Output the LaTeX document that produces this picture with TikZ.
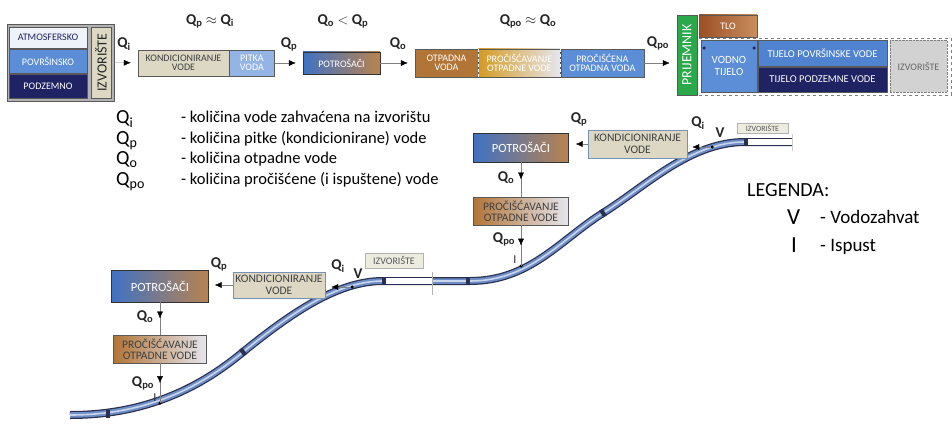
\documentclass[tikz,border=0pt]{standalone}
\usepackage{fontspec}
\setmainfont{Carlito}
\usepackage{amsmath}
\usetikzlibrary{calc}
\usetikzlibrary{scopes}
\usetikzlibrary{positioning}
\usetikzlibrary{arrows.meta}
\usetikzlibrary{decorations.markings}

\definecolor{atmo}{HTML}{EEF3FA}
\definecolor{surf}{HTML}{5B8ED6}
\definecolor{surfdark}{HTML}{4F83CF}
\definecolor{navy}{HTML}{1F2263}
\definecolor{sand}{HTML}{DDD8C3}
\definecolor{pitka}{HTML}{93B4E4}
\definecolor{potrblue}{HTML}{3F72C2}
\definecolor{potrbrown}{HTML}{B8834F}
\definecolor{otpbrown}{HTML}{B27538}
\definecolor{procorange}{HTML}{D49B22}
\definecolor{proclight}{HTML}{E6E6EE}
\definecolor{prijgreen}{HTML}{2AA84A}
\definecolor{tlodark}{HTML}{9C5024}
\definecolor{tlolight}{HTML}{C98D5E}
\definecolor{izvgray}{HTML}{D2D2D2}
\definecolor{labelbg}{HTML}{ECECE0}
\definecolor{riverdark}{HTML}{2A304F}
\definecolor{riverblue}{HTML}{6E8DC6}
\definecolor{riverlight}{HTML}{C8D5EC}

\newcommand{\Qsub}[1]{Q\textsubscript{#1}}

\begin{document}
\begin{tikzpicture}[
    x=1pt, y=-1pt,
    box/.style={rectangle,draw=gray!70!black,thin,inner sep=1pt,align=center,text=white,font=\fontsize{10}{9.5}\selectfont},
    bigbox/.style={box,font=\fontsize{11.5}{11.5}\selectfont},
    tag/.style={rectangle,draw=gray!60,fill=labelbg,inner sep=1pt,text=gray!70!black},
    qlab/.style={font=\fontsize{15}{15}\selectfont\bfseries,text=black!85,inner sep=0pt},
    qbig/.style={font=\fontsize{20}{20}\selectfont,inner sep=0pt,anchor=base west},
    legtext/.style={font=\fontsize{16.5}{16.5}\selectfont,inner sep=0pt,anchor=base west},
    flow/.style={draw=gray,thin,-{Latex[color=black,length=7pt,width=6pt]},shorten >=7pt},
    drop/.style={draw=gray,thin,postaction={decorate},
        decoration={markings,mark=at position 0.5 with {\arrow{Latex[color=black,length=7pt,width=6pt]}}}},
    river/.style={line width=8pt,draw=riverdark,postaction={draw=riverblue,line width=5.5pt},
        postaction={draw=riverlight,line width=1.6pt}},
    source/.style={line width=8pt,draw=riverdark,postaction={draw=white,line width=5.5pt}},
    weir/.style={rectangle,fill=riverdark,minimum width=4pt,minimum height=8pt,inner sep=0pt},
    tap/.style={circle,fill=black,inner sep=0pt,minimum size=3.5pt},
]
    \useasboundingbox (0,0) rectangle (952,425);

    % Shema: izvoriste -> kondicioniranje -> potrosaci -> prociscavanje -> prijemnik
    \node[rectangle,fill=gray!60,draw=gray!70!black,minimum width=107,minimum height=77] (src) at (60.5,62.5) {};
    \node[box,fill=atmo,text=navy,minimum width=78,minimum height=21] (atm) at (48,37.5) {ATMOSFERSKO};
    \node[box,fill=surf,minimum width=78,minimum height=24] (pov) at (48,61) {POVRŠINSKO};
    \node[box,fill=navy,minimum width=78,minimum height=24] (pod) at (48,86) {PODZEMNO};
    \node[box,fill=sand,text=gray!30!black,rotate=90,minimum width=71,minimum height=20,
        font=\fontsize{14}{14}\selectfont] (izv) at (101,62.5) {IZVORIŠTE};

    \node[box,fill=sand,text=gray!50!black,minimum width=91,minimum height=26] (kond) at (183.5,63) {KONDICIONIRANJE\\VODE};
    \node[box,fill=pitka,minimum width=45,minimum height=26,right=0pt of kond] (pitka) {PITKA\\VODA};
    \node[box,left color=potrblue,right color=potrbrown,draw=gray!40!black,minimum width=77,minimum height=22] (potr) at (341.5,63) {POTROŠAČI};
    \node[box,fill=otpbrown,minimum width=63,minimum height=28] (otp) at (446.5,63) {OTPADNA\\VODA};
    \node[box,left color=procorange,right color=proclight,text=white,minimum width=82,minimum height=28,right=0pt of otp] (proc) {PROČIŠĆAVANJE\\OTPADNE VODE};
    \node[box,fill=surf,minimum width=83,minimum height=28,right=0pt of proc] (pocisc) {PROČIŠĆENA\\OTPADNA VODA};
    \draw[white,densely dashed] (otp.north east) -- (otp.south east);
    \draw[white,densely dashed] (proc.north east) -- (proc.south east);

    % Prijemnik
    \draw[gray,dashed] (696,38) rectangle (951,95);
    \node[box,fill=prijgreen,rotate=90,minimum width=80,minimum height=20,font=\fontsize{14}{14}\selectfont] (prij) at (687,55) {PRIJEMNIK};
    \node[box,left color=tlodark,right color=tlolight,minimum width=58,minimum height=22] (tlo) at (728,26) {TLO};
    \node[box,fill=surf,minimum width=56,minimum height=52,font=\fontsize{11}{12}\selectfont] (vodno) at (729,66) {VODNO\\TIJELO};
    \node[tap,fill=navy] (vt1) at (704,48) {};
    \node[tap,fill=navy] (vt2) at (754,48) {};
    \node[box,fill=surfdark,minimum width=129,minimum height=26,font=\fontsize{10.5}{10.5}\selectfont] (tpov) at (822.5,53) {TIJELO POVRŠINSKE VODE};
    \node[box,fill=navy,minimum width=129,minimum height=25,font=\fontsize{10.5}{10.5}\selectfont] (tpod) at (822.5,79.5) {TIJELO PODZEMNE VODE};
    \node[box,fill=izvgray,draw=gray,densely dotted,text=gray!80!black,minimum width=57,minimum height=52] (izv2) at (918.5,66) {IZVORIŠTE};

    \draw[flow] (src) -- (kond);
    \draw[flow] (pitka) -- (potr);
    \draw[flow] (potr) -- (otp);
    \draw[flow] (pocisc.east) -- (pocisc.east -| prij.north);
    {[qlab]
        \node (qi) at (124,44) {\Qsub{i}};
        \node (qp) at (289,44) {\Qsub{p}};
        \node (qo) at (398,44) {\Qsub{o}};
        \node (qpo) at (658,43) {\Qsub{po}};
        \node (r1) at (210,21) {\Qsub{p} $\approx$ \Qsub{i}};
        \node (r2) at (343,21) {\Qsub{o} $<$ \Qsub{p}};
        \node (r3) at (528,21) {\Qsub{po} $\approx$ \Qsub{o}};
    }

    % Oznake protoka
    \node[qbig] (lqi) at (116,124) {\Qsub{i}};
    \node[qbig] (lqp) at (116,144) {\Qsub{p}};
    \node[qbig] (lqo) at (116,164) {\Qsub{o}};
    \node[qbig] (lqpo) at (116,185) {\Qsub{po}};
    \node[legtext] (tqi) at (181,123) {- količina vode zahvaćena na izvorištu};
    \node[legtext] (tqp) at (181,143) {- količina pitke (kondicionirane) vode};
    \node[legtext] (tqo) at (181,163) {- količina otpadne vode};
    \node[legtext] (tqpo) at (181,184) {- količina pročišćene (i ispuštene) vode};

    % Legenda
    \node[legtext,font=\fontsize{20}{20}\selectfont] (leg) at (747,196) {LEGENDA:};
    \node[legtext,font=\fontsize{23}{23}\selectfont] (lv) at (787,224) {V};
    \node[legtext,font=\fontsize{19}{19}\selectfont] (tv) at (820,223) {- Vodozahvat};
    \node[legtext,font=\fontsize{23}{23}\selectfont] (li) at (791,252) {I};
    \node[legtext,font=\fontsize{19}{19}\selectfont] (ti) at (820,251) {- Ispust};

    % Vodotok
    \draw[river] (70,415) .. controls (140,415) and (195,392) .. (243,352)
        .. controls (296,309) and (340,281) .. (383,281) -- (470,281)
        .. controls (530,281) and (560,240) .. (603,213)
        .. controls (646,186) and (690,142) .. (745,142) -- (792,142);
    \draw[source] (383,281) -- (432,281);
    \draw[source] (745,142) -- (792,142);
    \draw[gray!60] (432,272) -- (432,295);
    \draw[gray!40] (792,134) -- (792,151);
    \node[weir] (w1) at (108,413.5) {};
    \node[weir,rotate=39] (w2) at (243,352) {};
    \node[weir] (w3) at (384,281) {};
    \node[weir] (w4) at (468,281) {};
    \node[weir,rotate=32] (w5) at (603,213) {};
    \node[weir] (w6) at (746,142) {};

    % Gornji sustav
    \node[tag,font=\fontsize{8}{8}\selectfont,minimum width=51,minimum height=10] (izv3) at (762.5,128) {IZVORIŠTE};
    \node[bigbox,fill=sand,draw=pitka!80!black,text=gray!50!black,minimum width=99,minimum height=28] (kond2) at (637.5,144) {KONDICIONIRANJE\\VODE};
    \node[bigbox,left color=potrblue,right color=potrbrown,draw=gray!40!black,minimum width=95,minimum height=29,
        font=\fontsize{12.5}{12.5}\selectfont] (potr2) at (521,147.5) {POTROŠAČI};
    \node[bigbox,left color=otpbrown,right color=proclight,text=black!75,minimum width=95,minimum height=28] (proc2) at (521,211) {PROČIŠĆAVANJE\\OTPADNE VODE};
    \node[tap] (in2) at (712,147) {};
    \coordinate (out2) at (521,266);
    \node[tap] (i2) at (521,266) {};
    \draw[flow,shorten >=5pt] (in2) -- (in2 -| kond2.east);
    \draw[flow,shorten >=7pt] (kond2.west) -- (kond2.west -| potr2.east);
    \draw[drop] (potr2) -- (proc2);
    \draw[drop] (proc2) -- (out2);
    {[qlab]
        \node (qi2) at (698,123) {\Qsub{i}};
        \node (v2) at (720,133) {V};
        \node (qp2) at (579,119) {\Qsub{p}};
        \node (qo2) at (506,178) {\Qsub{o}};
        \node (qpo2) at (504,239) {\Qsub{po}};
        \node[font=\fontsize{12}{12}\selectfont] (ii2) at (515,260) {I};
    }

    % Donji sustav
    \node[tag,font=\fontsize{10}{10}\selectfont,minimum width=58,minimum height=15] (izv4) at (394,260.5) {IZVORIŠTE};
    \node[bigbox,fill=sand,draw=pitka!80!black,text=gray!50!black,minimum width=92,minimum height=26] (kond3) at (279,285) {KONDICIONIRANJE\\VODE};
    \node[bigbox,left color=potrblue,right color=potrbrown,draw=gray!40!black,minimum width=97,minimum height=32,
        font=\fontsize{12.5}{12.5}\selectfont] (potr3) at (160,286) {POTROŠAČI};
    \node[bigbox,left color=otpbrown,right color=proclight,text=black!75,minimum width=93,minimum height=28] (proc3) at (160,349) {PROČIŠĆAVANJE\\OTPADNE VODE};
    \node[tap] (in3) at (352,287) {};
    \coordinate (out3) at (160,403);
    \node[tap] (i3) at (160,403) {};
    \draw[flow,shorten >=6pt] (in3) -- (in3 -| kond3.east);
    \draw[flow,shorten >=6pt] (kond3.west) -- (kond3.west -| potr3.east);
    \draw[drop] (potr3) -- (proc3);
    \draw[drop] (proc3) -- (out3);
    {[qlab]
        \node (qi3) at (338,266) {\Qsub{i}};
        \node (v3) at (358,274) {V};
        \node (qp3) at (219,264) {\Qsub{p}};
        \node (qo3) at (145,317) {\Qsub{o}};
        \node (qpo3) at (143,383) {\Qsub{po}};
        \node[font=\fontsize{12}{12}\selectfont] (ii3) at (155,398) {I};
    }
\end{tikzpicture}
\end{document}
